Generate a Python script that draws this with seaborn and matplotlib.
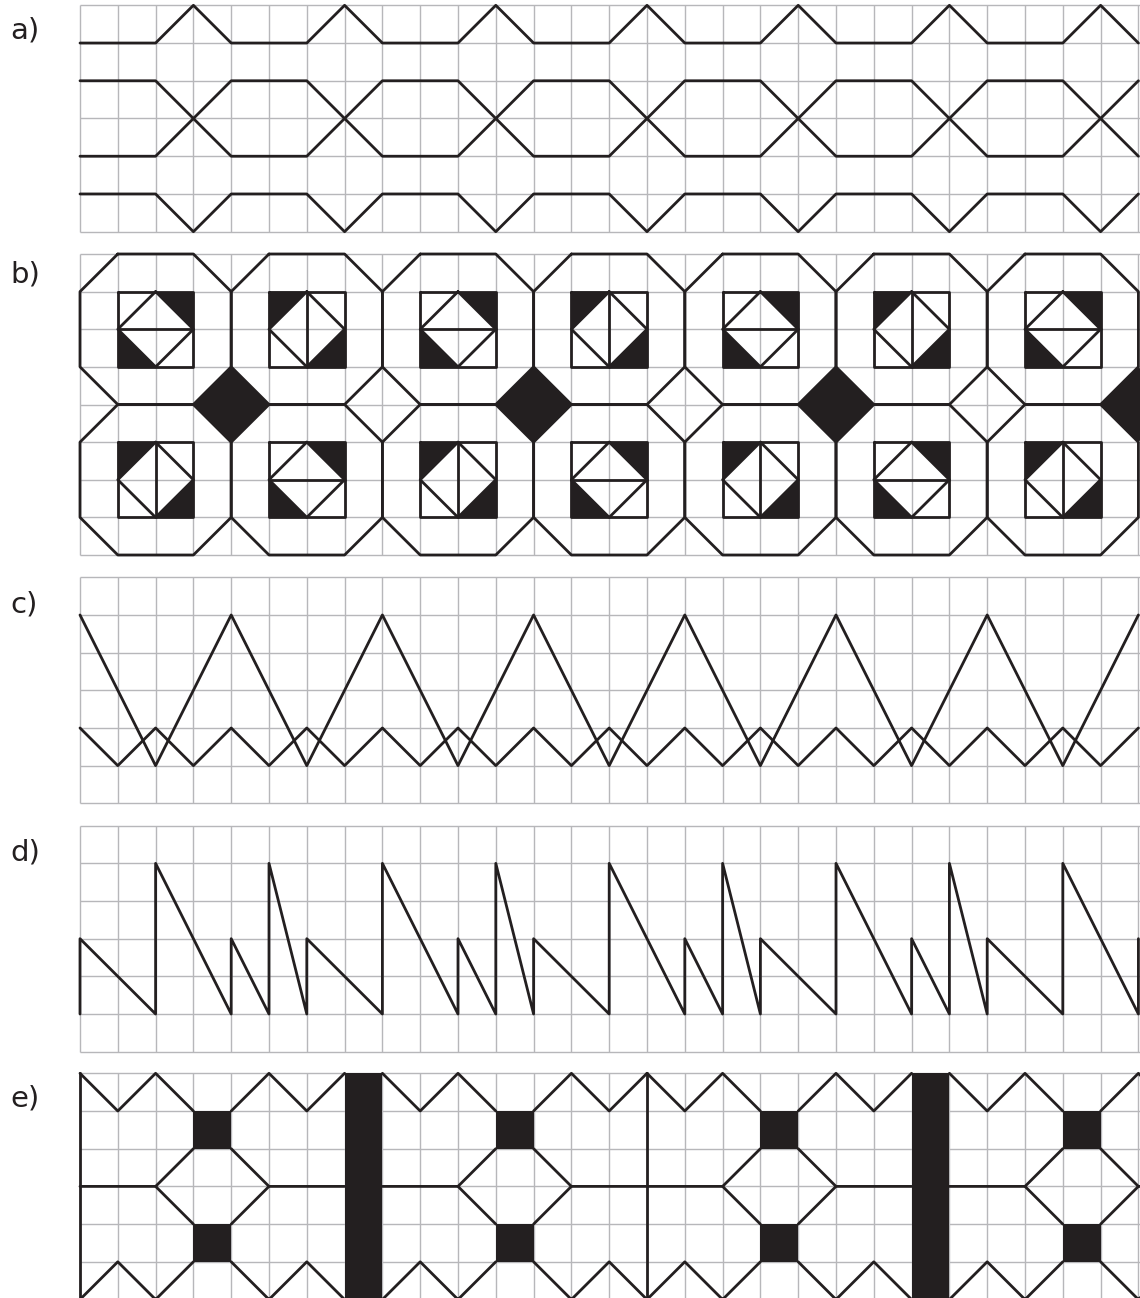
import pandas as pd
import matplotlib
matplotlib.use("Agg")
import matplotlib.pyplot as plt
import seaborn as sns

sns.set_theme(style="white")
plt.rcParams['font.family'] = ['DejaVu Sans']

INK = "#231f20"
GRID = "#b7b7ba"

# page layout in pixels
W, H = 1140, 1298
CELL = 37.8
GRID_LEFT = 80
N_COLS = 28

panel_labels = ["a)", "b)", "c)", "d)", "e)"]
panel_tops = [5.3, 254.0, 577.3, 825.7, 1073.3]
panel_heights = [226.4, 301.0, 226.0, 226.0, 226.2]
panel_rows = [6, 8, 6, 6, 6]
label_centers = [30, 275, 605, 852, 1098]

# a) four lines, each given as one motif (grid units) and its period
a_line1_x, a_line1_y, a_line1_period = [0, 2, 3], [1, 1, 0], 4
a_line2_x, a_line2_y, a_line2_period = [0, 2, 4, 6], [2, 2, 4, 4], 8
a_line3_x, a_line3_y, a_line3_period = [0, 2, 4, 6], [4, 4, 2, 2], 8
a_line4_x, a_line4_y, a_line4_period = [0, 2, 3], [5, 5, 6], 4

# b) octagons 4x4, inner squares with a midline (A = horizontal, B = vertical)
b_oct_x = [0, 4, 8, 12, 16, 20, 24]
b_oct_y = [0, 4]
b_top_types = "ABABABA"
b_bottom_types = "BABABAB"
b_black_diamond_x = [4, 12, 20, 28]
b_black_diamond_y = 4

# c) big and small zigzags
c_big_x, c_big_y, c_big_period = [0, 2], [1, 5], 4
c_small_x, c_small_y, c_small_period = [0, 1], [4, 5], 2

# d) sawtooth
d_saw_x = [0, 0, 2, 2, 4, 4, 5, 5]
d_saw_y = [5, 3, 5, 1, 5, 3, 5, 1]
d_saw_period = 6

# e) border motif starts, thin dividers and black bars
e_starts = [0, 8, 15, 23]
e_thin_lines = [0, 15]
e_bars = [7, 22]
e_top_zig_x = [0, 1, 2, 3]
e_top_zig_y = [0, 1, 0, 1]
e_top_zig2_x = [4, 5, 6, 7]
e_top_zig2_y = [1, 0, 1, 0]


def tile(xs, ys, period, end=N_COLS):
    px, py = [], []
    off = 0
    while off <= end:
        for x, y in zip(xs, ys):
            if x + off <= end:
                px.append(x + off)
                py.append(y)
        off += period
    return px, py


def draw_lines(ax, polylines):
    rows = []
    for i, (xs, ys) in enumerate(polylines):
        for x, y in zip(xs, ys):
            rows.append((i, x, y))
    df = pd.DataFrame(rows, columns=["seg", "x", "y"])
    sns.lineplot(data=df, x="x", y="y", units="seg", estimator=None, sort=False,
                 color=INK, linewidth=2.0, ax=ax, zorder=3)
    ax.set(xlabel=None, ylabel=None)


def fill_poly(ax, xs, ys):
    ax.fill(xs, ys, color=INK, lw=0, zorder=2)


fig = plt.figure(figsize=(W / 100, H / 100), dpi=100)
fig.patch.set_facecolor("white")

PAD = 0.08
axes = []
for k in range(5):
    top, h, rows = panel_tops[k], panel_heights[k], panel_rows[k]
    cy = h / rows
    x0 = GRID_LEFT - PAD * CELL
    y0 = top - PAD * cy
    y1 = top + h + PAD * cy
    ax = fig.add_axes([x0 / W, 1 - y1 / H, (W - x0) / W, (y1 - y0) / H])
    ax.set_xlim(-PAD, (W - GRID_LEFT) / CELL)
    ax.set_ylim(rows + PAD, -PAD)
    ax.axis("off")
    ax.hlines(range(rows + 1), 0, N_COLS + 1, color=GRID, lw=1.0, zorder=1)
    ax.vlines(range(N_COLS + 1), 0, rows, color=GRID, lw=1.0, zorder=1)
    fig.text(10 / W, 1 - label_centers[k] / H, panel_labels[k], fontsize=21,
             color=INK, ha="left", va="center")
    axes.append(ax)

# a)
draw_lines(axes[0], [
    tile(a_line1_x, a_line1_y, a_line1_period),
    tile(a_line2_x, a_line2_y, a_line2_period),
    tile(a_line3_x, a_line3_y, a_line3_period),
    tile(a_line4_x, a_line4_y, a_line4_period),
])

# b)
ax = axes[1]
lines = []
for row_i, oy in enumerate(b_oct_y):
    types = b_top_types if row_i == 0 else b_bottom_types
    for ox, t in zip(b_oct_x, types):
        lines.append(([ox + 1, ox + 3, ox + 4, ox + 4, ox + 3, ox + 1, ox, ox, ox + 1],
                      [oy, oy, oy + 1, oy + 3, oy + 4, oy + 4, oy + 3, oy + 1, oy]))
        lines.append(([ox + 1, ox + 3, ox + 3, ox + 1, ox + 1],
                      [oy + 1, oy + 1, oy + 3, oy + 3, oy + 1]))
        lines.append(([ox + 2, ox + 3, ox + 2, ox + 1, ox + 2],
                      [oy + 1, oy + 2, oy + 3, oy + 2, oy + 1]))
        if t == "A":
            lines.append(([ox + 1, ox + 3], [oy + 2, oy + 2]))
            fill_poly(ax, [ox + 2, ox + 3, ox + 3], [oy + 1, oy + 1, oy + 2])
            fill_poly(ax, [ox + 1, ox + 1, ox + 2], [oy + 2, oy + 3, oy + 3])
        else:
            lines.append(([ox + 2, ox + 2], [oy + 1, oy + 3]))
            fill_poly(ax, [ox + 1, ox + 2, ox + 1], [oy + 1, oy + 1, oy + 2])
            fill_poly(ax, [ox + 3, ox + 3, ox + 2], [oy + 2, oy + 3, oy + 3])
for cx in b_black_diamond_x:
    cy = b_black_diamond_y
    fill_poly(ax, [cx, cx + 1, cx, cx - 1], [cy - 1, cy, cy + 1, cy])
draw_lines(ax, lines)

# c)
draw_lines(axes[2], [
    tile(c_big_x, c_big_y, c_big_period),
    tile(c_small_x, c_small_y, c_small_period),
])

# d)
draw_lines(axes[3], [tile(d_saw_x, d_saw_y, d_saw_period)])

# e)
ax = axes[4]
lines = []
for s in e_starts:
    tz1 = [s + x for x in e_top_zig_x]
    tz2 = [s + x for x in e_top_zig2_x]
    lines.append((tz1, e_top_zig_y))
    lines.append((tz2, e_top_zig2_y))
    lines.append((tz1, [6 - y for y in e_top_zig_y]))
    lines.append((tz2, [6 - y for y in e_top_zig2_y]))
    lines.append(([s, s + 2, s + 3], [3, 3, 2]))
    lines.append(([s + 2, s + 3], [3, 4]))
    lines.append(([s + 4, s + 5, s + 7], [2, 3, 3]))
    lines.append(([s + 5, s + 4], [3, 4]))
    fill_poly(ax, [s + 3, s + 4, s + 4, s + 3], [1, 1, 2, 2])
    fill_poly(ax, [s + 3, s + 4, s + 4, s + 3], [4, 4, 5, 5])
for xb in e_bars:
    fill_poly(ax, [xb, xb + 1, xb + 1, xb], [0, 0, 6, 6])
for xl in e_thin_lines:
    lines.append(([xl, xl], [0, 6]))
draw_lines(ax, lines)

fig.savefig("out.png", dpi=100, facecolor="white")
